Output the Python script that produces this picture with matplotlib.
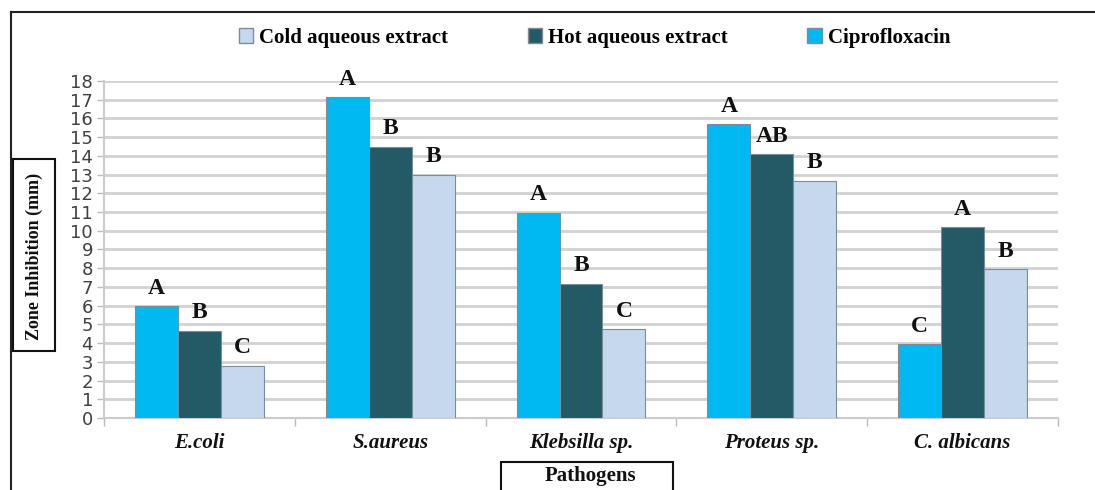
import numpy as np
import matplotlib.pyplot as plt
from matplotlib.patches import Rectangle
from matplotlib.lines import Line2D

# data
pathogens = ['E.coli', 'S.aureus', 'Klebsilla sp.', 'Proteus sp.', 'C. albicans']
cipro = [5.98, 17.13, 10.97, 15.7, 3.95]
hot = [4.65, 14.49, 7.16, 14.09, 10.2]
cold = [2.78, 12.98, 4.74, 12.68, 7.94]
cipro_lab = ['A', 'A', 'A', 'A', 'C']
hot_lab = ['B', 'B', 'B', 'AB', 'A']
cold_lab = ['C', 'B', 'C', 'B', 'B']

c_cipro = '#00B9F2'
c_hot = '#245A66'
c_cold = '#C5D8EE'

serif = 'Liberation Serif'
W, H = 1095, 490

fig = plt.figure(figsize=(W / 100, H / 100), dpi=100)
ax = fig.add_axes([104 / W, 1 - 418 / H, 954 / W, 337 / H])

x = np.arange(len(pathogens))
w = 0.225
series = [(cipro, c_cipro, cipro_lab, -w), (hot, c_hot, hot_lab, 0), (cold, c_cold, cold_lab, w)]
for vals, col, labs, off in series:
    bars = ax.bar(x + off, vals, w, color=col, edgecolor='#7f8c94', linewidth=0.8, zorder=3)
    for b, lab in zip(bars, labs):
        ax.text(b.get_x() + b.get_width() / 2, b.get_height() + 0.4, lab,
                ha='center', va='bottom', fontsize=17, fontweight='bold',
                family=serif, color='#111111', zorder=4)

ax.set_xlim(-0.5, len(pathogens) - 0.5)
ax.set_ylim(0, 18)
ax.set_yticks(range(0, 19))
ax.tick_params(axis='y', labelsize=13, colors='#bbbbbb', labelcolor='#404040', length=5, width=1, pad=3)
ax.set_xticks(np.arange(-0.5, len(pathogens), 1))
ax.set_xticklabels([])
ax.tick_params(axis='x', length=6, width=1, colors='#bbbbbb')
for i, name in enumerate(pathogens):
    ax.text(i, -0.8, name, ha='center', va='top', fontsize=15, fontweight='bold',
            fontstyle='italic', family=serif, color='#111111')

ax.yaxis.grid(True, color='#d2d2d2', linewidth=2, zorder=0)
ax.set_axisbelow(True)
for s in ['top', 'right']:
    ax.spines[s].set_visible(False)
ax.spines['left'].set_color('#cccccc')
ax.spines['left'].set_linewidth(1.5)
ax.spines['bottom'].set_color('#cccccc')
ax.spines['bottom'].set_linewidth(1.5)

# legend (reversed order as in the picture)
handles = [Rectangle((0, 0), 1, 1, facecolor=c, edgecolor='#7f8c94') for c in (c_cold, c_hot, c_cipro)]
fig.legend(handles, ['Cold aqueous extract', 'Hot aqueous extract', 'Ciprofloxacin'],
           loc='center', bbox_to_anchor=(0.543, 1 - 38 / H), ncol=3, frameon=False,
           handlelength=0.7, handleheight=0.7, handletextpad=0.3, columnspacing=3.8,
           prop={'family': serif, 'weight': 'bold', 'size': 15})

# axis titles in boxes
fig.patches.append(Rectangle((13 / W, 1 - 351 / H), 42 / W, 192 / H, transform=fig.transFigure,
                             facecolor='white', edgecolor='#111111', linewidth=1.5))
fig.text(34 / W, 1 - 256 / H, 'Zone Inhibition (mm)', rotation=90, ha='center', va='center',
         fontsize=13, fontweight='bold', family=serif, color='#111111')
fig.patches.append(Rectangle((501 / W, -0.05), 172 / W, 0.05 + 1 - 462 / H,
                             transform=fig.transFigure, facecolor='white', edgecolor='#111111',
                             linewidth=1.5))
fig.text(590 / W, 1 - 476 / H, 'Pathogens', ha='center', va='center',
         fontsize=15, fontweight='bold', family=serif, color='#111111')

# outer frame lines (left and top)
fig.add_artist(Line2D([11 / W, 11 / W], [0, 1 - 12 / H], color='#222222', linewidth=1.5))
fig.add_artist(Line2D([11 / W, 1], [1 - 12 / H, 1 - 12 / H], color='#222222', linewidth=1.5))

fig.savefig('out.png', dpi=100)
